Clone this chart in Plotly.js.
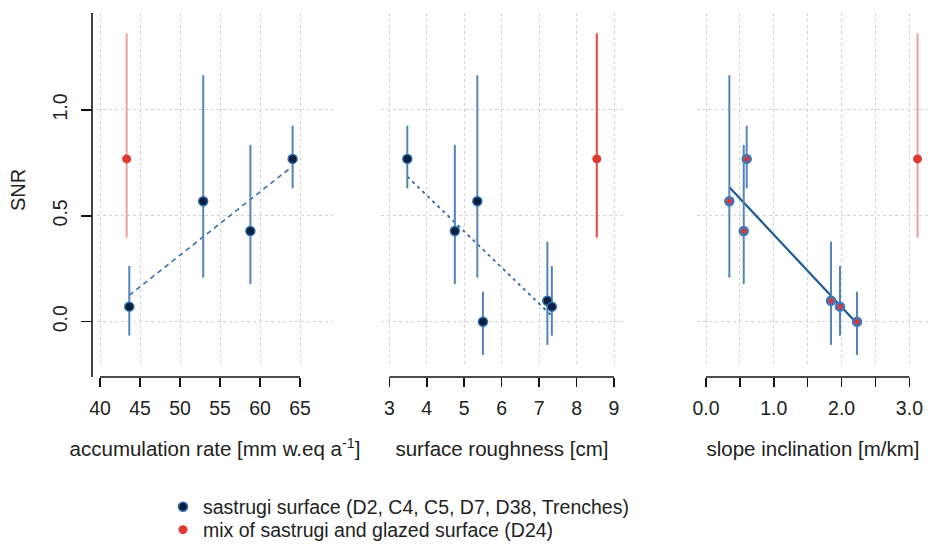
<!DOCTYPE html>
<html>
<head>
<meta charset="utf-8">
<script src="https://cdn.plot.ly/plotly-3.0.1.min.js"></script>
<style>html,body{margin:0;padding:0;background:#fff}#chart{width:929px;height:544px}</style>
</head>
<body>
<div id="chart"></div>
<script>
// ---- data ----
// sites of the sastrugi group (same order in every array)
const snrSastrugi   = [0.769, 0.428, 0.569, 0.000, 0.099, 0.071];
const snrSastrugiHi = [0.926, 0.835, 1.164, 0.142, 0.378, 0.263];
const snrSastrugiLo = [0.630, 0.178, 0.208, -0.157, -0.110, -0.066];
const accSastrugi   = [64.08, 58.8, 52.9, null, null, 43.66];
const roughSastrugi = [3.48, 4.75, 5.35, 5.50, 7.22, 7.34];
const slopeSastrugi = [0.600, 0.556, 0.344, 2.227, 1.844, 1.976];
// mixed sastrugi / glazed site (D24)
const snrMixed   = [0.769];
const snrMixedHi = [1.362];
const snrMixedLo = [0.397];
const accMixed   = [43.33];
const roughMixed = [8.54];
const slopeMixed = [3.12];
// axis ticks
const accTicks   = [40, 45, 50, 55, 60, 65];
const roughTicks = [3, 4, 5, 6, 7, 8, 9];
const slopeTicks = [0, 0.5, 1, 1.5, 2, 2.5, 3];
const slopeTickText = ['0.0', ' ', '1.0', ' ', '2.0', ' ', '3.0'];
const snrTicks = [0, 0.5, 1];
const snrTickText = ['0.0', '0.5', '1.0'];
const legendNames = ['sastrugi surface (D2, C4, C5, D7, D38, Trenches)',
                     'mix of sastrugi and glazed surface (D24)'];

// ---- helpers ----
const W = 929, H = 544;
const px = v => v / W;
const py = v => 1 - v / H;
const FONT = 'Liberation Sans, Arial, sans-serif';
const BLUE_BAR = '#5284bf';

function errUp(y, hi) { return y.map((v, i) => hi[i] - v); }
function errDn(y, lo) { return y.map((v, i) => v - lo[i]); }

function fitLine(xs, ys) {
  const pts = xs.map((x, i) => [x, ys[i]]).filter(p => p[0] !== null);
  const n = pts.length;
  const mx = pts.reduce((s, p) => s + p[0], 0) / n;
  const my = pts.reduce((s, p) => s + p[1], 0) / n;
  let sxy = 0, sxx = 0;
  pts.forEach(p => { sxy += (p[0] - mx) * (p[1] - my); sxx += (p[0] - mx) ** 2; });
  const b = sxy / sxx, a = my - b * mx;
  const xmin = Math.min(...pts.map(p => p[0])), xmax = Math.max(...pts.map(p => p[0]));
  return { x: [xmin, xmax], y: [a + b * xmin, a + b * xmax] };
}

const traces = [];
function panel(xa, xs, xm, lineStyle, markerStyle, redBarColor, legend) {
  const f = fitLine(xs, snrSastrugi);
  traces.push({ x: f.x, y: f.y, xaxis: xa, yaxis: 'y', mode: 'lines', line: lineStyle,
                showlegend: false, hoverinfo: 'skip' });
  traces.push({ x: xs, y: snrSastrugi, xaxis: xa, yaxis: 'y', mode: 'markers',
    name: legendNames[0], showlegend: legend, legend: 'legend',
    marker: markerStyle,
    error_y: { type: 'data', symmetric: false, array: errUp(snrSastrugi, snrSastrugiHi),
               arrayminus: errDn(snrSastrugi, snrSastrugiLo), thickness: 2, width: 0, color: BLUE_BAR } });
  traces.push({ x: xm, y: snrMixed, xaxis: xa, yaxis: 'y', mode: 'markers',
    name: legendNames[1], showlegend: legend, legend: 'legend2',
    marker: { color: '#dc3a30', size: 9 },
    error_y: { type: 'data', symmetric: false, array: errUp(snrMixed, snrMixedHi),
               arrayminus: errDn(snrMixed, snrMixedLo), thickness: 2, width: 0, color: redBarColor } });
}

const darkMarker = { color: '#08203d', size: 9, line: { color: '#2f6cb0', width: 1.5 } };
panel('x',  accSastrugi,   accMixed,   { color: '#3a70ad', width: 1.6, dash: '5px,4px' }, darkMarker, '#f0a0a0', true);
panel('x2', roughSastrugi, roughMixed, { color: '#2f64a3', width: 1.8, dash: '3px,4px' }, darkMarker, '#e2473f', false);
panel('x3', slopeSastrugi, slopeMixed, { color: '#1d5a97', width: 2.2 },
      { color: '#cf3b3f', size: 8, line: { color: '#3f77b8', width: 2.5 } }, '#ef9c9c', false);

const axisY = py(377), plotBottom = py(367), plotTop = py(13);
const GRID = { color: '#d2d2d2', dash: 'dot' };
const gridStyle = { showgrid: true, gridcolor: GRID.color, gridwidth: 1, griddash: GRID.dash, zeroline: false };
const TICKFONT = { family: FONT, size: 19.5, color: '#222' };
const TITLEFONT = { family: FONT, size: 20.5, color: '#222' };
const xCommon = Object.assign({}, gridStyle, {
  anchor: 'free', position: axisY, showline: false, ticks: 'outside', ticklen: 9, tickwidth: 1.5,
  tickcolor: '#111', tickfont: TICKFONT, automargin: false, tickmode: 'array', ticklabelstandoff: 5
});
function xAxis(domain, range, ticks, text, title) {
  const a = Object.assign({}, xCommon, { domain: domain, range: range, tickvals: ticks });
  if (text) a.ticktext = text;
  a.title = { text: title, font: TITLEFONT, standoff: 23 };
  return a;
}
function axisLine(xref, ticks) {
  return { type: 'line', xref: xref, yref: 'paper', x0: ticks[0], x1: ticks[ticks.length - 1],
           y0: axisY, y1: axisY, line: { color: '#111', width: 1.6 } };
}

const legendCommon = { xanchor: 'left', yanchor: 'middle', bgcolor: 'rgba(0,0,0,0)',
                       font: { family: FONT, size: 19.5, color: '#222' }, borderwidth: 0 };

const layout = {
  width: W, height: H,
  margin: { l: 0, r: 0, t: 0, b: 0, autoexpand: false },
  paper_bgcolor: '#fff', plot_bgcolor: '#fff',
  font: { family: FONT, color: '#222' },
  xaxis:  xAxis([px(97), px(333)],  [39.625, 69.125], accTicks, null, 'accumulation rate [mm w.eq a<sup>-1</sup>]'),
  xaxis2: xAxis([px(381), px(623)], [2.778, 9.240], roughTicks, null, 'surface roughness [cm]'),
  xaxis3: xAxis([px(697), 1], [-0.133, 3.289], slopeTicks, slopeTickText, 'slope inclination [m/km]'),
  yaxis: Object.assign({}, gridStyle, {
    domain: [plotBottom, plotTop], range: [-0.214, 1.458],
    anchor: 'free', position: px(92), showline: false,
    ticks: 'outside', ticklen: 11, tickwidth: 1.5, tickcolor: '#111',
    tickmode: 'array', tickvals: snrTicks, ticktext: snrTickText, tickangle: -90,
    tickfont: TICKFONT, automargin: false, ticklabelstandoff: 6,
    title: { text: 'SNR', font: { family: FONT, size: 20, color: '#222' }, standoff: 17 }
  }),
  shapes: [
    axisLine('x', accTicks), axisLine('x2', roughTicks), axisLine('x3', slopeTicks),
    { type: 'line', xref: 'paper', yref: 'paper', x0: px(92), x1: px(92), y0: axisY, y1: plotTop,
      line: { color: '#111', width: 1.6 } }
  ],
  showlegend: true,
  legend:  Object.assign({}, legendCommon, { x: px(163), y: py(507) }),
  legend2: Object.assign({}, legendCommon, { x: px(163), y: py(530) }),
  hovermode: false
};

Plotly.newPlot('chart', traces, layout, { displayModeBar: false, staticPlot: true });
</script>
</body>
</html>
